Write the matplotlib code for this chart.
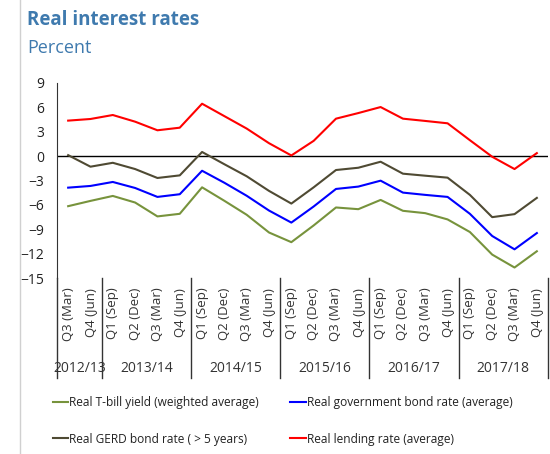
import matplotlib
matplotlib.use("Agg")
import matplotlib.pyplot as plt
from matplotlib.lines import Line2D
from matplotlib.transforms import blended_transform_factory

plt.rcParams['font.family'] = ['Open Sans', 'DejaVu Sans']

# quarterly series, 2012/13 Q3 .. 2017/18 Q4
quarters = ["Q3 (Mar)", "Q4 (Jun)",
            "Q1 (Sep)", "Q2 (Dec)", "Q3 (Mar)", "Q4 (Jun)",
            "Q1 (Sep)", "Q2 (Dec)", "Q3 (Mar)", "Q4 (Jun)",
            "Q1 (Sep)", "Q2 (Dec)", "Q3 (Mar)", "Q4 (Jun)",
            "Q1 (Sep)", "Q2 (Dec)", "Q3 (Mar)", "Q4 (Jun)",
            "Q1 (Sep)", "Q2 (Dec)", "Q3 (Mar)", "Q4 (Jun)"]
years = ["2012/13", "2013/14", "2014/15", "2015/16", "2016/17", "2017/18"]
year_len = [2, 4, 4, 4, 4, 4]

tbill = [-6.16, -5.51, -4.90, -5.71, -7.42, -7.10, -3.84, -5.50, -7.22, -9.40,
         -10.59, -8.53, -6.32, -6.53, -5.39, -6.73, -7.02, -7.79, -9.34, -12.12,
         -13.71, -11.71]
govbond = [-3.88, -3.67, -3.18, -3.92, -5.02, -4.69, -1.80, -3.28, -4.88, -6.70,
           -8.18, -6.20, -4.04, -3.75, -3.02, -4.49, -4.77, -5.02, -7.10, -9.83,
           -11.47, -9.47]
gerd = [0.12, -1.30, -0.82, -1.59, -2.69, -2.37, 0.51, -1.00, -2.48, -4.28,
        -5.84, -3.84, -1.71, -1.43, -0.69, -2.16, -2.41, -2.65, -4.77, -7.51,
        -7.14, -5.14]
lending = [4.37, 4.57, 5.06, 4.24, 3.18, 3.50, 6.45, 4.92, 3.39, 1.59,
           0.08, 1.88, 4.61, 5.30, 6.04, 4.61, 4.33, 4.04, 1.96, -0.08,
           -1.59, 0.37]

W, H = 550, 454
fig = plt.figure(figsize=(W / 100, H / 100), dpi=100)
ax = fig.add_axes([57 / W, 1 - 278 / H, (548 - 57) / W, (278 - 83) / H])

x = list(range(len(quarters)))
l1, = ax.plot(x, tbill, color="#77933C", lw=1.5)
l2, = ax.plot(x, govbond, color="#0000FF", lw=1.5)
l3, = ax.plot(x, gerd, color="#4F4A33", lw=1.5)
l4, = ax.plot(x, lending, color="#FF0000", lw=1.5)
ax.axhline(0, color="black", lw=1, zorder=1)

ax.set_xlim(-0.5, len(quarters) - 0.5)
ax.set_ylim(-15, 9)
ax.set_yticks(range(-15, 10, 3))
ax.tick_params(axis="y", length=0, pad=9, labelsize=10, colors="#222222")
ax.set_xticks(x)
ax.set_xticklabels(quarters, rotation=90, fontsize=9.5, color="#333333")
ax.tick_params(axis="x", length=0, pad=7)
for s in ["top", "right", "bottom"]:
    ax.spines[s].set_visible(False)
ax.spines["left"].set_color("#333333")

# year groups under the quarter labels
tr = blended_transform_factory(ax.transData, fig.transFigure)
y_top = 1 - 278 / H
y_bot = 1 - 378 / H
edge = -0.5
for yr, n in zip(years, year_len):
    ax.add_line(Line2D([edge, edge], [y_top, y_bot], transform=tr,
                       color="#333333", lw=1, clip_on=False))
    ax.text(edge + n / 2, 1 - 368 / H, yr, transform=tr, ha="center",
            va="center", fontsize=10, color="#333333")
    edge += n
ax.add_line(Line2D([edge, edge], [y_top, y_bot], transform=tr,
                   color="#333333", lw=1, clip_on=False))

fig.add_artist(Line2D([20 / W, 20 / W], [0, 1], transform=fig.transFigure,
                      color="#d0d0d0", lw=1))
fig.text(27 / W, 1 - 20 / H, "Real interest rates", fontsize=13.5,
         fontweight="bold", color="#3F7AAE", va="center")
fig.text(27 / W, 1 - 48 / H, "Percent", fontsize=13, color="#3F7AAE",
         va="center")

fig.legend([l1, l3, l2, l4],
           ["Real T-bill yield (weighted average)", "Real GERD bond rate ( > 5 years)",
            "Real government bond rate (average)", "Real lending rate (average)"],
           ncol=2, loc="lower left", bbox_to_anchor=(42 / W, -0.005),
           frameon=False, fontsize=8.6, handlelength=1.3, handletextpad=0.1,
           labelspacing=1.95, columnspacing=2.6, labelcolor="#222222")

fig.savefig("out.png", dpi=100)
